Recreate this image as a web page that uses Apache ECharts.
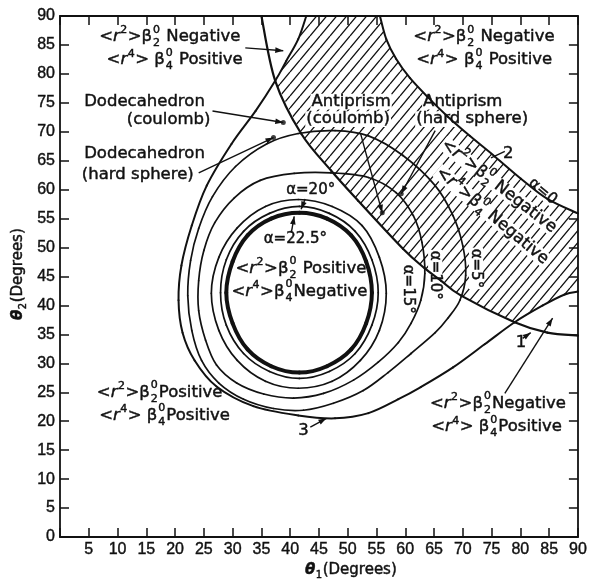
<!DOCTYPE html>
<html><head><meta charset="utf-8">
<script src="https://cdn.jsdelivr.net/npm/echarts@6/dist/echarts.min.js"></script>
<style>html,body{margin:0;padding:0;background:#fff}#c{width:590px;height:583px}</style>
</head><body><div id="c"></div>
<script>
// ---------- data (degrees) ----------
const axisTicks = [0,5,10,15,20,25,30,35,40,45,50,55,60,65,70,75,80,85,90];
const xTickLabels = ['','5','10','15','20','25','30','35','40','45','50','55','60','65','70','75','80','85','90'];
const yTickLabels = ['0','5','10','15','20','25','30','35','40','45','50','55','60','65','70','75','80','85','90'];

// curve 1 : <r2>beta2 = 0
const curve1 = [[35,90],[37.4,78.8],[41.9,69.7],[47.1,63.3],[51.8,58.1],[59.6,49.8],[63.4,46.4],[66.2,44.3],[69.7,41.7],[79,37.1],[84.7,35.3],[90,34.8]];
// curve 2 : alpha = 0 (upper right)
const curve2 = [[55.6,90],[56.7,86.0],[58.4,82.6],[60.8,79.3],[64.0,75.9],[67.4,72.6],[71.2,69.3],[75.6,65.7],[80.1,61.9],[84.7,58.4],[90,55.9]];
// curve 3 : outer loop
const curve3 = [[42.8,90],[41.4,86.0],[39.3,82.2],[37.4,78.8],[34.0,73.6],[29.8,67.9],[25.5,60.7],[22.9,53.8],[21.1,46.9],[20.6,40.9],[21.3,35.3],[23.4,30.5],[27.2,26.0],[33.6,22.6],[41.4,21.0],[47.8,20.5],[53.6,21.4],[58.8,23.8],[62.7,25.9],[68.3,29.3],[73.8,33.3],[79,37.1],[83.9,40.0],[87.7,41.9],[90,42.4]];
// alpha contours (closed loops)
const alpha5 = [[47.8,70.2],[53.6,69.3],[59.6,65.9],[65.2,60.7],[68.3,55.5],[70.0,50.3],[70.5,45.2],[69.5,40.9],[67.4,37.8],[65.2,35.3],[61.0,31.7],[57.0,28.4],[52.7,25.3],[47.5,23.1],[42.3,21.9],[37.1,22.2],[31.9,23.8],[27.6,26.6],[24.6,30.5],[22.9,35.7],[22.2,41.7],[22.7,47.8],[24.1,53.3],[26.5,58.8],[30.5,64.0],[35.9,67.9],[41.4,69.7]];
const alpha10 = [[47.1,62.9],[53.6,62.1],[58.4,59.5],[61.4,55.5],[62.9,50.9],[63.4,45.5],[62.7,40.9],[61.0,36.9],[58.8,33.6],[55.3,30.2],[51.0,27.1],[45.8,24.8],[40.6,24.0],[35.4,24.7],[30.7,26.6],[27.2,29.7],[25.3,34.0],[24.1,39.1],[24.1,44.3],[25.0,49.5],[26.9,54.3],[30.3,58.6],[34.8,61.6],[40.7,62.8]];
const alpha15 = [[56.7,42.1],[55.5,48.3],[52.5,53.8],[47.3,57.1],[41.4,58.3],[35.7,57.1],[30.8,53.4],[27.6,48.3],[26.3,42.1],[27.6,35.7],[30.8,30.5],[35.7,26.9],[41.4,25.7],[47.3,26.9],[52.2,30.5],[55.5,35.7]];
const alpha20 = [[55.3,42.2],[54.2,47.9],[51.3,52.8],[46.8,55.9],[41.6,57.1],[36.4,55.9],[31.9,52.8],[28.9,47.9],[27.9,42.2],[28.9,36.6],[31.9,31.7],[36.4,28.6],[41.6,27.4],[46.8,28.6],[51.3,31.7],[54.2,36.6]];
const alpha225 = [[54.2,42.2],[53.2,47.6],[50.6,52.1],[46.4,55.0],[41.6,56.0],[36.7,55.0],[32.6,52.1],[30.0,47.6],[28.9,42.2],[30.0,36.9],[32.6,32.4],[36.7,29.5],[41.6,28.4],[46.4,29.5],[50.6,32.4],[53.2,36.9]];
// structure points: dodecahedron (coulomb, hard sphere), antiprism (coulomb, hard sphere)
const structPoints = [[38.8,71.6],[37.1,69.0],[56.0,56.0],[59.3,59.3]];

// ---------- annotation texts ----------
const P = (sup, sp1, sub, sp2, word) => [['t','<'],['i','r'],['sup',sup],['t','>'+(sp1?' ':'')+'β'],['st','0',sub],['t',(sp2?' ':'')+word]];
const T = s => [['t', s]];
const labels = [
  {parts:P('2',0,'2',1,'Negative'), at:[6.8,86.4]},
  {parts:P('4',1,'4',1,'Positive'), at:[8.1,82.4]},
  {parts:P('2',0,'2',1,'Negative'), at:[61.4,86.4]},
  {parts:P('4',1,'4',1,'Positive'), at:[61.9,82.4]},
  {parts:T('Dodecahedron'), at:[4.2,75.2]},
  {parts:T('(coulomb)'), at:[11.6,72.1]},
  {parts:T('Dodecahedron'), at:[4.2,66.2]},
  {parts:T('(hard sphere)'), at:[3.8,62.6]},
  {parts:T('Antiprism'), at:[43.7,75.2], bg:1},
  {parts:T('(coulomb)'), at:[42.8,72.2], bg:1},
  {parts:T('Antiprism'), at:[63.1,75.2], bg:1},
  {parts:T('(hard sphere)'), at:[61.9,72.2], bg:1},
  {parts:T('α=20°'), at:[39.3,60.0], size:15},
  {parts:T('α=22.5°'), at:[35.4,51.4], size:15},
  {parts:P('2',0,'2',1,'Positive'), at:[30.5,46.4]},
  {parts:P('4',0,'4',0,'Negative'), at:[29.8,42.4]},
  {parts:P('2',0,'2',0,'Positive'), at:[6.4,25.0]},
  {parts:P('4',1,'4',0,'Positive'), at:[6.8,21.0]},
  {parts:P('2',0,'2',0,'Negative'), at:[64.3,23.1]},
  {parts:P('4',1,'4',0,'Positive'), at:[64.5,19.0]},
  {parts:P('2',0,'2',1,'Negative'), at:[66.6,68.1], rot:-38, bg:1},
  {parts:P('4',0,'4',1,'Negative'), at:[65.7,63.3], rot:-40, bg:1},
  {parts:T('α=0'), at:[83.9,59.7], rot:-40, center:true, size:15, bg:1},
  {parts:T('2'), at:[77.0,66.2]},
  {parts:T('α=15°'), at:[60.5,42.8], rot:-90, center:true, size:15},
  {parts:T('α=10°'), at:[65.2,45.2], rot:-90, center:true, size:15, bg:1},
  {parts:T('α=5°'), at:[72.3,46.4], rot:-90, center:true, size:15, bg:1},
  {parts:T('1'), at:[80.1,33.6], center:true},
  {parts:T('3'), at:[42.3,18.4], center:true}
];
// arrows: from, to, head
const arrows = [
  [[32.2,84.5],[38.8,84.0],1],
  [[26.5,73.6],[38.8,71.6],1],
  [[24.1,62.9],[37.1,69.0],1],
  [[52.2,69.8],[56.0,56.0],1],
  [[65.2,70.2],[59.3,59.3],1],
  [[74.9,65.5],[77.3,66.6],0],
  [[42.6,58.4],[41.9,56.6],1],
  [[40.2,52.6],[40.7,55.4],1],
  [[80.4,34.3],[81.8,35.3],1],
  [[43.5,19.0],[46.3,20.5],1],
  [[77.3,24.8],[85.6,37.8],1]
];

// ---------- hatched region ----------
const findIdx = (arr, p) => arr.findIndex(q => q[0] === p[0] && q[1] === p[1]);
const X1 = [79,37.1], X2 = [37.4,78.8];
const hatchPoly = [
  ...curve2,
  ...curve3.slice(findIdx(curve3, X1)).reverse(),
  ...curve1.slice(findIdx(curve1, X2), findIdx(curve1, X1) + 1).reverse(),
  ...curve3.slice(0, findIdx(curve3, X2) + 1).reverse()
];
const pc = document.createElement('canvas'); pc.width = 10; pc.height = 12;
(function(){ const g = pc.getContext('2d'); g.strokeStyle = '#111'; g.lineWidth = 1.3; g.beginPath();
  for (const dx of [-10,0,10]) { g.moveTo(dx,12); g.lineTo(dx+10,0); } g.stroke(); })();

// ---------- chart ----------
const LF = '"Liberation Sans", Arial, sans-serif';
const FF = '"DejaVu Sans", sans-serif';
const INK = '#111';
const axisCommon = {type:'value', min:0, max:90, interval:5,
  axisLine:{show:true, onZero:false, lineStyle:{color:INK, width:1.8}},
  axisTick:{show:true, inside:true, length:9, lineStyle:{color:INK, width:1.5}},
  splitLine:{show:false}};
const lbl = arr => v => { const i = axisTicks.indexOf(Math.round(v)); return i >= 0 ? arr[i] : ''; };
// smooth curve through the given points: cubic bezier segments (Catmull-Rom tangents), positions from the axes
function bezierChildren(px, closed, style) {
  const n = px.length, out = [];
  const get = i => closed ? px[(i + n) % n] : px[Math.max(0, Math.min(n - 1, i))];
  const segs = closed ? n : n - 1;
  for (let i = 0; i < segs; i++) {
    const p0 = get(i - 1), p1 = get(i), p2 = get(i + 1), p3 = get(i + 2);
    out.push({type:'bezierCurve', shape:{x1:p1[0], y1:p1[1], x2:p2[0], y2:p2[1],
      cpx1:p1[0] + (p2[0] - p0[0]) / 6, cpy1:p1[1] + (p2[1] - p0[1]) / 6,
      cpx2:p2[0] - (p3[0] - p1[0]) / 6, cpy2:p2[1] - (p3[1] - p1[1]) / 6}, style});
  }
  return out;
}
const curveS = (data, w, closed) => ({type:'custom', coordinateSystem:'cartesian2d', data:[[0,0]], z:3, silent:true,
  renderItem:(params, api) => ({type:'group',
    children: bezierChildren(data.map(p => api.coord(p)), closed, {stroke:INK, lineWidth:w, fill:null, lineCap:'round'})})});
const tickLabel = {margin:5, color:INK, fontSize:16, fontFamily:LF, textBorderColor:INK, textBorderWidth:0.4};

const chart = echarts.init(document.getElementById('c'), null, {renderer:'canvas'});
chart.setOption({
  animation:false,
  backgroundColor:'#fff',
  grid:{left:60, right:10, top:16, bottom:46},
  xAxis:[
    {...axisCommon, position:'bottom', axisLabel:{...tickLabel, formatter:lbl(xTickLabels)}},
    {...axisCommon, position:'top', axisLabel:{show:false}}
  ],
  yAxis:[
    {...axisCommon, position:'left', axisLabel:{...tickLabel, formatter:lbl(yTickLabels)}},
    {...axisCommon, position:'right', axisLabel:{show:false}}
  ],
  series:[
    {type:'custom', coordinateSystem:'cartesian2d', data:[[0,0]], z:1, silent:true,
      renderItem:(params, api) => ({type:'polygon', shape:{points: hatchPoly.map(p => api.coord(p))},
        style:{fill:{type:'pattern', image:pc, repeat:'repeat'}, stroke:null}})},
    curveS(curve1, 2.2), curveS(curve2, 2), curveS(curve3, 2),
    curveS(alpha5, 1.7, true), curveS(alpha10, 1.7, true), curveS(alpha15, 1.7, true), curveS(alpha20, 1.7, true),
    curveS(alpha225, 4, true),
    {type:'scatter', data:structPoints, symbolSize:5, itemStyle:{color:INK}, z:5, silent:true}
  ]
});

// ---------- annotations ----------
const mctx = document.createElement('canvas').getContext('2d');
function tw(s, size, style) { mctx.font = (style||'') + ' ' + size + 'px ' + FF; return mctx.measureText(s).width; }
function txt(s, x, y, size, style, z) {
  return {type:'text', x, y, z, silent:true, style:{text:s, font:(style||'normal') + ' ' + size + 'px ' + FF, fill:INK, stroke:INK, lineWidth:0.45,
    align:'left', verticalAlign:'middle', textAlign:'left', textVerticalAlign:'middle'}};
}
function richGroup(parts, size, bg) {
  const small = Math.round(size * 0.68); let x = 0; const ch = []; const z = bg ? 2 : 6;
  for (const [k, a, b] of parts) {
    if (k === 't') { ch.push(txt(a, x, 0, size, null, z)); x += tw(a, size); }
    else if (k === 'i') { ch.push(txt(a, x, 0, size, 'italic', z)); x += tw(a, size, 'italic'); }
    else if (k === 'bi') { ch.push(txt(a, x, 0, size, 'italic bold', z)); x += tw(a, size, 'italic bold'); }
    else if (k === 'sup') { ch.push(txt(a, x + 0.5, -size * 0.38, small, null, z)); x += tw(a, small) + 1; }
    else if (k === 'sub') { ch.push(txt(a, x + 0.5, size * 0.36, small, null, z)); x += tw(a, small) + 1; }
    else if (k === 'st') { ch.push(txt(a, x + 1, -size * 0.42, small, null, z)); ch.push(txt(b, x + 1, size * 0.4, small, null, z)); x += Math.max(tw(a, small), tw(b, small)) + 2; }
  }
  if (bg) {
    const h = size * 0.95;
    ch.unshift({type:'rect', z:1.5, silent:true, shape:{x:-1, y:-h / 2, width:x + 2, height:h}, style:{fill:'#fff'}});
  }
  return {ch, w:x};
}
const toPx = p => chart.convertToPixel({gridIndex:0}, p);
const elements = [];
for (const [a, b, head] of arrows) {
  const p0 = toPx(a), p1 = toPx(b);
  elements.push({type:'line', z:6, silent:true, shape:{x1:p0[0], y1:p0[1], x2:p1[0], y2:p1[1]}, style:{stroke:INK, lineWidth:1.4}});
  if (head) {
    const ang = Math.atan2(p1[1] - p0[1], p1[0] - p0[0]); const Lh = 8, W = 2.8;
    const bx = p1[0] - Lh * Math.cos(ang), by = p1[1] - Lh * Math.sin(ang);
    const nx = -Math.sin(ang) * W, ny = Math.cos(ang) * W;
    elements.push({type:'polygon', z:6, silent:true, shape:{points:[[p1[0], p1[1]], [bx + nx, by + ny], [bx - nx, by - ny]]}, style:{fill:INK}});
  }
}
for (const L of labels) {
  const size = L.size || 16.5; const g = richGroup(L.parts, size, L.bg);
  if (L.center) g.ch.forEach(c => { if (c.type === 'rect') c.shape.x -= g.w / 2; else c.x -= g.w / 2; });
  const [px, py] = toPx(L.at);
  elements.push({type:'group', x:px, y:py, rotation:(L.rot || 0) * Math.PI / 180, children:g.ch, silent:true});
}
// axis names
const xn = richGroup([['bi','θ'],['sub','1'],['t','(Degrees)']], 15);
elements.push({type:'group', x:305, y:570, children:xn.ch, silent:true});
const yn = richGroup([['bi','θ'],['sub','2'],['t','(Degrees)']], 15);
elements.push({type:'group', x:18, y:320, rotation:Math.PI / 2, children:yn.ch, silent:true});
chart.setOption({graphic:{elements}});
</script>
</body></html>
